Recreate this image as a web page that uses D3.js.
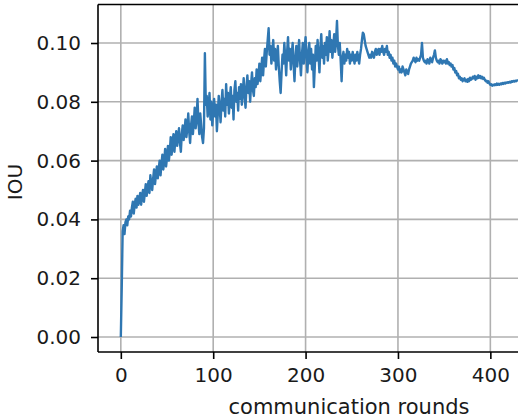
<!DOCTYPE html>
<html>
<head>
<meta charset="utf-8">
<script src="https://cdn.jsdelivr.net/npm/d3@7"></script>
<style>
  html, body { margin: 0; padding: 0; background: #fff; }
  svg { display: block; }
  text { font-family: "DejaVu Sans", sans-serif; }
</style>
</head>
<body>
<svg id="chart" width="518" height="418"></svg>
<script>
// ---- data (IOU per communication round) ----
const iou = [
  0.000, 0.017, 0.036, 0.038, 0.035, 0.039, 0.040, 0.038, 0.041, 0.040,
  0.043, 0.041, 0.044, 0.046, 0.042, 0.045, 0.047, 0.044, 0.048, 0.045,
  0.047, 0.049, 0.045, 0.048, 0.050, 0.046, 0.049, 0.052, 0.048, 0.051,
  0.053, 0.049, 0.055, 0.052, 0.050, 0.054, 0.057, 0.052, 0.055, 0.058,
  0.054, 0.057, 0.060, 0.055, 0.059, 0.062, 0.057, 0.060, 0.064, 0.058,
  0.061, 0.065, 0.060, 0.063, 0.068, 0.062, 0.066, 0.069, 0.063, 0.067,
  0.070, 0.065, 0.068, 0.071, 0.066, 0.063, 0.069, 0.072, 0.067, 0.070,
  0.074, 0.068, 0.071, 0.076, 0.070, 0.066, 0.072, 0.075, 0.069, 0.073,
  0.078, 0.071, 0.074, 0.081, 0.073, 0.069, 0.076, 0.072, 0.068, 0.066,
  0.071, 0.0965, 0.079, 0.082, 0.075, 0.078, 0.083, 0.074, 0.080, 0.072,
  0.077, 0.081, 0.075, 0.079, 0.070, 0.076, 0.082, 0.078, 0.073, 0.080,
  0.084, 0.077, 0.081, 0.075, 0.086, 0.079, 0.083, 0.076, 0.081, 0.085,
  0.078, 0.082, 0.074, 0.084, 0.087, 0.080, 0.083, 0.077, 0.085, 0.081,
  0.086, 0.079, 0.083, 0.088, 0.082, 0.078, 0.085, 0.089, 0.083, 0.087,
  0.080, 0.086, 0.090, 0.084, 0.082, 0.088, 0.085, 0.091, 0.086, 0.089,
  0.093, 0.087, 0.091, 0.095, 0.089, 0.094, 0.098, 0.092, 0.097, 0.101,
  0.105, 0.096, 0.099, 0.093, 0.097, 0.101, 0.094, 0.098, 0.091, 0.095,
  0.099, 0.092, 0.087, 0.083, 0.090, 0.096, 0.093, 0.100, 0.095, 0.089,
  0.097, 0.102, 0.094, 0.098, 0.091, 0.096, 0.100, 0.093, 0.087, 0.095,
  0.099, 0.092, 0.097, 0.101, 0.094, 0.089, 0.096, 0.100, 0.093, 0.098,
  0.102, 0.095, 0.090, 0.097, 0.100, 0.093, 0.098, 0.091, 0.096, 0.085,
  0.092, 0.099, 0.094, 0.101, 0.096, 0.090, 0.098, 0.103, 0.095, 0.099,
  0.093, 0.100, 0.096, 0.102, 0.094, 0.098, 0.104, 0.097, 0.101, 0.095,
  0.099, 0.103, 0.097, 0.101, 0.1075, 0.099, 0.096, 0.100, 0.094, 0.087,
  0.095, 0.097, 0.093, 0.096, 0.094, 0.098, 0.095, 0.097, 0.093, 0.096,
  0.094, 0.097, 0.095, 0.093, 0.096, 0.094, 0.097, 0.095, 0.093, 0.096,
  0.098, 0.101, 0.1035, 0.103, 0.101, 0.099, 0.098, 0.097, 0.096, 0.095,
  0.096, 0.095, 0.097, 0.096, 0.095, 0.097, 0.098, 0.096, 0.097, 0.098,
  0.096, 0.098, 0.097, 0.099, 0.097, 0.096, 0.098, 0.097, 0.099, 0.096,
  0.097, 0.095, 0.096, 0.094, 0.095, 0.093, 0.094, 0.092, 0.093, 0.092,
  0.091, 0.092, 0.090, 0.091, 0.090, 0.092, 0.091, 0.090, 0.089, 0.091,
  0.090, 0.0895, 0.091, 0.092, 0.093, 0.0935, 0.094, 0.095, 0.094, 0.0935,
  0.095, 0.094, 0.0945, 0.094, 0.095, 0.096, 0.100, 0.095, 0.094, 0.0935,
  0.094, 0.093, 0.0945, 0.094, 0.093, 0.095, 0.094, 0.0935, 0.095, 0.096,
  0.0975, 0.095, 0.094, 0.0935, 0.094, 0.093, 0.0945, 0.094, 0.093, 0.094,
  0.0935, 0.094, 0.093, 0.0945, 0.093, 0.0935, 0.0925, 0.093, 0.092, 0.0925,
  0.091, 0.0915, 0.090, 0.0905, 0.089, 0.0895, 0.088, 0.0885, 0.0875, 0.088,
  0.087, 0.0875, 0.088, 0.087, 0.0875, 0.0868, 0.0878, 0.087, 0.0882, 0.0875,
  0.0878, 0.0885, 0.088, 0.0888, 0.0875, 0.0885, 0.088, 0.089, 0.0882, 0.0888,
  0.088, 0.0885, 0.0878, 0.0882, 0.0875, 0.087, 0.0872, 0.0865, 0.087, 0.0862,
  0.0858, 0.086, 0.0855, 0.0858, 0.0856, 0.086, 0.0857, 0.0862, 0.0858, 0.0861,
  0.0858, 0.0862, 0.086, 0.0864, 0.0861, 0.0865, 0.0862, 0.0866, 0.0864, 0.0867,
  0.0865, 0.0868, 0.0866, 0.087, 0.0868, 0.0871, 0.0869, 0.0872, 0.087, 0.0873,
  0.0872
];
const rounds = iou.map((_, i) => i);
const xTicks = [0, 100, 200, 300, 400];
const yTicks = [0.00, 0.02, 0.04, 0.06, 0.08, 0.10];
const xLabel = "communication rounds";
const yLabel = "IOU";

// ---- layout ----
const svg = d3.select("#chart");
const padL = 98, padR = 600, padT = 4.5, padB = 352;

const x = d3.scaleLinear().domain([-24.7, 518.7]).range([padL, padR]);
const y = d3.scaleLinear().domain([-0.0051, 0.1131]).range([padB, padT]);

const fontSize = "20px";
const textColor = "#1a1a1a";

// grid
const grid = svg.append("g");
grid.selectAll("line.gx").data(xTicks).enter().append("line")
  .attr("x1", d => x(d)).attr("x2", d => x(d))
  .attr("y1", padT).attr("y2", padB)
  .attr("stroke", "#b0b0b0").attr("stroke-width", 1.6);
grid.selectAll("line.gy").data(yTicks).enter().append("line")
  .attr("x1", padL).attr("x2", padR)
  .attr("y1", d => y(d)).attr("y2", d => y(d))
  .attr("stroke", "#b0b0b0").attr("stroke-width", 1.6);

// clip
svg.append("clipPath").attr("id", "clip").append("rect")
  .attr("x", padL).attr("y", padT).attr("width", padR - padL).attr("height", padB - padT);

// line
const line = d3.line().x((d, i) => x(rounds[i])).y(d => y(d));
svg.append("path")
  .attr("clip-path", "url(#clip)")
  .attr("d", line(iou))
  .attr("fill", "none")
  .attr("stroke", "#2f77b2")
  .attr("stroke-width", 2.4)
  .attr("stroke-linejoin", "round");

// axes
const xAxis = d3.axisBottom(x).tickValues(xTicks).tickFormat(d3.format("d"))
  .tickSize(7).tickPadding(9);
const gx = svg.append("g").attr("transform", `translate(0,${padB})`).call(xAxis);
const yAxis = d3.axisLeft(y).tickValues(yTicks).tickFormat(d3.format(".2f"))
  .tickSize(7).tickPadding(10);
const gy = svg.append("g").attr("transform", `translate(${padL},0)`).call(yAxis);

[gx, gy].forEach(g => {
  g.select(".domain").remove();
  g.selectAll(".tick line").attr("stroke", "#000").attr("stroke-width", 1.6);
  g.selectAll(".tick text").attr("fill", textColor)
    .style("font-size", fontSize).style("font-family", "DejaVu Sans, sans-serif");
});

// spines
svg.append("line").attr("x1", padL).attr("x2", padL).attr("y1", padT).attr("y2", padB)
  .attr("stroke", "#000").attr("stroke-width", 1.6);
svg.append("line").attr("x1", padL).attr("x2", padR).attr("y1", padB).attr("y2", padB)
  .attr("stroke", "#000").attr("stroke-width", 1.6);
svg.append("line").attr("x1", padL).attr("x2", padR).attr("y1", padT).attr("y2", padT)
  .attr("stroke", "#000").attr("stroke-width", 1.6);

// labels
svg.append("text")
  .attr("x", (padL + padR) / 2).attr("y", 414)
  .attr("text-anchor", "middle")
  .attr("fill", textColor).style("font-size", "21px")
  .text(xLabel);
svg.append("text")
  .attr("transform", `translate(22,182) rotate(-90)`)
  .attr("text-anchor", "middle")
  .attr("fill", textColor).style("font-size", fontSize)
  .text(yLabel);
</script>
</body>
</html>
